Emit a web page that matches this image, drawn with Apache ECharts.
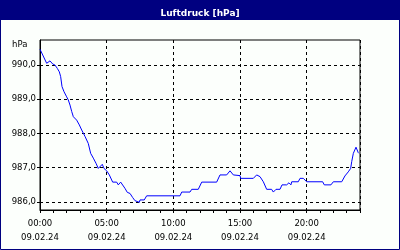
<!DOCTYPE html>
<html>
<head>
<meta charset="utf-8">
<script src="https://cdn.jsdelivr.net/npm/echarts@6/dist/echarts.min.js"></script>
<style>
html,body{margin:0;padding:0;background:#fcfffc;}
#c{width:400px;height:250px;}
</style>
</head>
<body>
<div id="c"></div>
<script>
const titleText = 'Luftdruck [hPa]';
const unitLabel = 'hPa';
const dateLabel = '09.02.24';
const xTickValues = [0, 5, 10, 15, 20];
const xTickLabels = ['00:00', '05:00', '10:00', '15:00', '20:00'];
const yTickValues = [986, 987, 988, 989, 990];
const hours = [0.0, 0.5, 0.62, 0.75, 0.88, 0.95, 1.12, 1.3, 1.45, 1.55, 1.65, 1.8, 2.0, 2.12, 2.25, 2.38, 2.5, 2.75, 2.95, 3.13, 3.38, 3.62, 3.8, 4.0, 4.2, 4.37, 4.5, 4.67, 4.8, 5.0, 5.2, 5.45, 5.75, 5.87, 6.05, 6.2, 6.37, 6.55, 6.75, 6.95, 7.12, 7.25, 7.45, 7.5, 7.82, 8.0, 10.5, 10.63, 11.25, 11.38, 11.87, 12.13, 13.25, 13.5, 14.0, 14.25, 14.5, 15.0, 15.05, 16.0, 16.25, 16.5, 16.75, 17.0, 17.37, 17.5, 17.7, 18.0, 18.15, 18.5, 18.67, 18.82, 18.88, 19.37, 19.5, 19.75, 20.0, 21.2, 21.32, 21.82, 22.0, 22.63, 22.87, 23.12, 23.3, 23.38, 23.5, 23.7, 23.87, 23.92];
const pressure = [990.46, 990.05, 990.10, 990.12, 990.10, 990.03, 990.00, 989.90, 989.80, 989.66, 989.37, 989.22, 989.07, 988.98, 988.83, 988.64, 988.49, 988.39, 988.25, 988.10, 987.91, 987.71, 987.42, 987.28, 987.13, 986.98, 986.98, 987.10, 986.98, 986.91, 986.79, 986.58, 986.58, 986.50, 986.58, 986.55, 986.40, 986.28, 986.25, 986.13, 986.04, 985.99, 985.99, 986.06, 986.06, 986.18, 986.18, 986.29, 986.29, 986.37, 986.37, 986.58, 986.58, 986.79, 986.79, 986.91, 986.79, 986.77, 986.69, 986.69, 986.79, 986.74, 986.59, 986.37, 986.37, 986.29, 986.37, 986.37, 986.50, 986.50, 986.56, 986.50, 986.59, 986.59, 986.69, 986.69, 986.59, 986.59, 986.50, 986.50, 986.59, 986.59, 986.76, 986.88, 986.98, 987.18, 987.42, 987.60, 987.44, 987.42];

const FONT = 'DejaVu Sans';
const chart = echarts.init(document.getElementById('c'), null, {renderer: 'canvas'});
const gridDash = {color: '#000', width: 1, type: [3, 3]};
chart.setOption({
  animation: false,
  backgroundColor: '#fcfffc',
  title: {
    text: titleText, left: 'center', top: 3,
    textStyle: {color: '#fff', fontFamily: FONT, fontWeight: 'bold', fontSize: 9, lineHeight: 12}
  },
  graphic: [
    {type: 'rect', z: -10, shape: {x: 0, y: 0, width: 400, height: 20}, style: {fill: '#000080'}},
    {type: 'rect', z: 100, shape: {x: 0.5, y: 0.5, width: 399, height: 249}, style: {fill: 'none', stroke: '#000080', lineWidth: 1}},
    {type: 'text', left: 12, top: 40, style: {text: unitLabel, fill: '#000', font: '8.5px "DejaVu Sans"'}}
  ],
  grid: {left: 40, right: 40, top: 40, bottom: 40, show: true, borderColor: '#000', borderWidth: 1, backgroundColor: 'transparent'},
  xAxis: [
    {
      type: 'value', min: 0, max: 24, interval: 5, position: 'bottom',
      axisLine: {show: true, lineStyle: {color: '#000', width: 1}},
      axisTick: {show: false},
      splitLine: {show: true, lineStyle: gridDash},
      axisLabel: {
        show: true, margin: 7, color: '#000', fontFamily: FONT, fontSize: 8.5, lineHeight: 14,
        showMaxLabel: false,
        formatter: function (v) {
          const i = xTickValues.indexOf(v);
          return i >= 0 ? xTickLabels[i] + '\n' + dateLabel : '';
        }
      }
    },
    {
      type: 'value', min: 0, max: 24, interval: 1, position: 'bottom', gridIndex: 0,
      axisLine: {show: false},
      axisTick: {show: true, length: 3, lineStyle: {color: '#000'}},
      axisLabel: {show: false},
      splitLine: {show: false}
    }
  ],
  yAxis: {
    type: 'value', min: 985.766, max: 990.73,
    axisLine: {show: true, lineStyle: {color: '#000', width: 1}},
    axisTick: {show: true, length: 3, customValues: yTickValues, lineStyle: {color: '#000'}},
    splitLine: {show: true, lineStyle: gridDash},
    axisLabel: {
      show: true, margin: 4, color: '#000', fontFamily: FONT, fontSize: 8.5,
      customValues: yTickValues,
      formatter: function (v) { return v.toFixed(1).replace('.', ','); }
    }
  },
  series: [{
    type: 'line', xAxisIndex: 0, yAxisIndex: 0,
    data: hours.map((h, i) => [h, pressure[i]]),
    showSymbol: false, symbol: 'none',
    lineStyle: {color: '#0000ff', width: 1},
    silent: true
  }]
});
</script>
</body>
</html>
